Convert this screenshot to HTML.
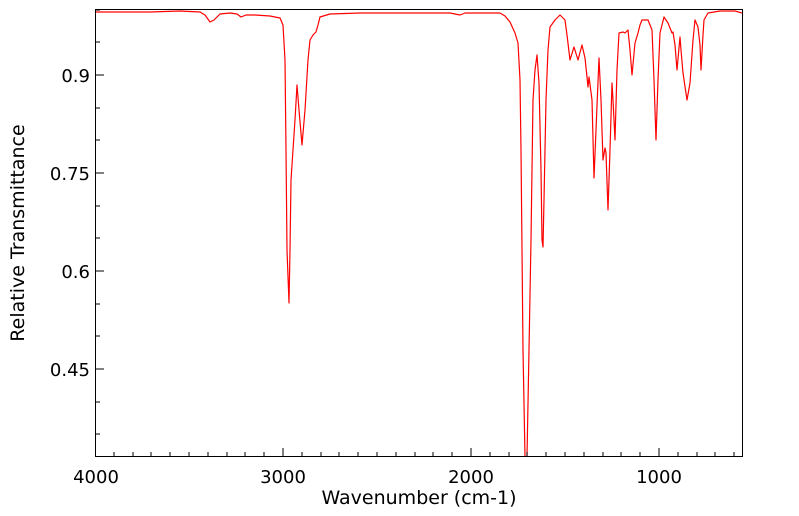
<!DOCTYPE html>
<html><head><meta charset="utf-8"><style>
html,body{margin:0;padding:0;background:#fff;}
svg{display:block;font-family:"DejaVu Sans","Liberation Sans",sans-serif;}
</style></head><body>
<svg width="799" height="516" viewBox="0 0 799 516" xmlns="http://www.w3.org/2000/svg">
<rect width="799" height="516" fill="#fff"/>
<defs><clipPath id="c"><rect x="95" y="10" width="647" height="447"/></clipPath></defs>
<g clip-path="url(#c)">
<polyline fill="none" stroke="#ff0000" stroke-width="1.2" stroke-linejoin="round" points="
95,12 150,12 180,11 200,12 205,15 210,22 214,20 220,14 230,13 237,14 241,17 246,15 255,15 270,16 280,18 283,25 285,60 286,150 287,250 289,303 290,250 291,180 293,150 295,120 297,85 299,110 302,145 305,110 308,60 310,40 313,35 316,32 318,25 320,17 330,14 360,13 400,13 450,13 455,14 460,15 465,13 480,13 500,13 505,16 510,22 515,33 518,43 520,80 521,150 522,250 523,350 525,457 527,457 529,350 531,240 533,100 535,70 537,55 539,83 541,170 542,240 543,247 544,200 546,100 548,50 550,27 555,20 560,15 565,20 567,35 570,60 574,47 578,60 582,45 585,58 587,77 588,87 589,77 592,100 594,178 596,130 599,58 601,100 603,160 605,148 606,153 608,210 610,150 612,83 613,100 615,140 617,70 619,33 623,32 625,33 628,30 630,50 632,75 635,43 638,33 640,25 642,20 648,20 652,30 654,80 656,140 658,80 660,33 664,17 668,23 672,33 673,32 675,45 677,70 680,37 681,50 683,73 687,100 690,83 693,40 695,20 698,27 700,45 701,70 703,35 704,20 708,13 720,11 727,11 735,11 742,13"/>
</g>
<rect x="95.5" y="9.5" width="647" height="447" fill="none" stroke="#000" stroke-width="1"/>
<g stroke="#000" stroke-width="1">
<line x1="283" y1="457" x2="283" y2="448"/>
<line x1="471" y1="457" x2="471" y2="448"/>
<line x1="659" y1="457" x2="659" y2="448"/>
<line x1="114" y1="457" x2="114" y2="452"/><line x1="133" y1="457" x2="133" y2="452"/><line x1="151" y1="457" x2="151" y2="452"/><line x1="170" y1="457" x2="170" y2="452"/><line x1="189" y1="457" x2="189" y2="452"/><line x1="208" y1="457" x2="208" y2="452"/><line x1="227" y1="457" x2="227" y2="452"/><line x1="245" y1="457" x2="245" y2="452"/><line x1="264" y1="457" x2="264" y2="452"/>
<line x1="302" y1="457" x2="302" y2="452"/><line x1="321" y1="457" x2="321" y2="452"/><line x1="339" y1="457" x2="339" y2="452"/><line x1="358" y1="457" x2="358" y2="452"/><line x1="377" y1="457" x2="377" y2="452"/><line x1="396" y1="457" x2="396" y2="452"/><line x1="415" y1="457" x2="415" y2="452"/><line x1="433" y1="457" x2="433" y2="452"/><line x1="452" y1="457" x2="452" y2="452"/>
<line x1="490" y1="457" x2="490" y2="452"/><line x1="509" y1="457" x2="509" y2="452"/><line x1="527" y1="457" x2="527" y2="452"/><line x1="546" y1="457" x2="546" y2="452"/><line x1="565" y1="457" x2="565" y2="452"/><line x1="584" y1="457" x2="584" y2="452"/><line x1="603" y1="457" x2="603" y2="452"/><line x1="621" y1="457" x2="621" y2="452"/><line x1="640" y1="457" x2="640" y2="452"/>
<line x1="678" y1="457" x2="678" y2="452"/><line x1="697" y1="457" x2="697" y2="452"/><line x1="715" y1="457" x2="715" y2="452"/><line x1="734" y1="457" x2="734" y2="452"/>
<line x1="95" y1="75" x2="104" y2="75"/><line x1="95" y1="173" x2="104" y2="173"/><line x1="95" y1="271" x2="104" y2="271"/><line x1="95" y1="369" x2="104" y2="369"/>
<line x1="95" y1="10" x2="100" y2="10"/><line x1="95" y1="42" x2="100" y2="42"/><line x1="95" y1="108" x2="100" y2="108"/><line x1="95" y1="140" x2="100" y2="140"/><line x1="95" y1="206" x2="100" y2="206"/><line x1="95" y1="238" x2="100" y2="238"/><line x1="95" y1="304" x2="100" y2="304"/><line x1="95" y1="336" x2="100" y2="336"/><line x1="95" y1="402" x2="100" y2="402"/><line x1="95" y1="434" x2="100" y2="434"/>
</g>
<g font-size="18" fill="#000">
<text x="96" y="483" text-anchor="middle">4000</text>
<text x="283" y="483" text-anchor="middle">3000</text>
<text x="471" y="483" text-anchor="middle">2000</text>
<text x="659" y="483" text-anchor="middle">1000</text>
<text x="90" y="82" text-anchor="end">0.9</text>
<text x="90" y="180" text-anchor="end">0.75</text>
<text x="90" y="278" text-anchor="end">0.6</text>
<text x="90" y="376" text-anchor="end">0.45</text>
<text x="419" y="504" text-anchor="middle" font-size="19">Wavenumber (cm-1)</text>
<text transform="translate(24,233) rotate(-90)" text-anchor="middle" font-size="19">Relative Transmittance</text>
</g>
</svg>
</body></html>
